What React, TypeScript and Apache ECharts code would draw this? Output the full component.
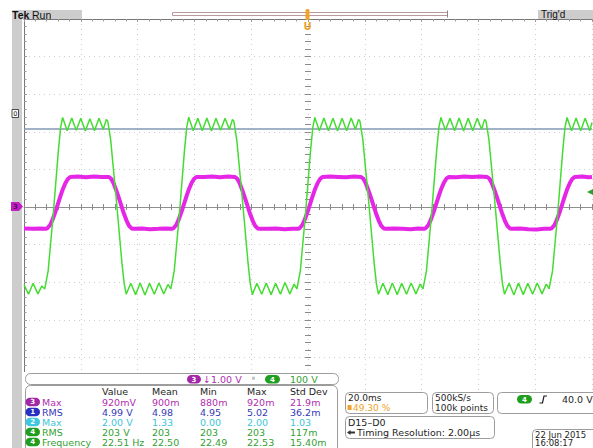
import { useEffect, useRef } from "react";
import * as echarts from "echarts";

const FONT = '"DejaVu Sans", Verdana, sans-serif';
const FONT2 = '"Liberation Sans", Arial, sans-serif';

// Horizontal: 20 ms/div, 10 divisions; vertical: 10 divisions
const timeMin = -100;
const timeMax = 100;
const timePerDiv = 20;
const ch3Min = -5; // 1.00 V/div
const ch3Max = 5;
const ch4Min = -500; // 100 V/div
const ch4Max = 500;

// Channel 4 (green), time in ms, value in V
const ch4Trace: [number, number][] = [
  [-100, -206], [-98.4, -232], [-96.8, -203], [-95.1, -231], [-93.7, -210],
  [-92.7, -218], [-91.5, -170], [-89.7, -20], [-87.9, 150], [-87.1, 212], [-86.4, 238],
  [-84.8, 203], [-83.2, 237], [-81.6, 204], [-80.0, 236], [-78.4, 202], [-76.8, 235],
  [-75.2, 203], [-73.6, 236], [-72.1, 207], [-71.0, 233], [-70.5, 228], [-69.5, 180],
  [-67.5, 20], [-65.5, -150], [-64.7, -205], [-64.0, -232], [-62.4, -203], [-60.7, -233],
  [-59.1, -202], [-57.4, -234], [-55.8, -203], [-54.1, -232], [-52.5, -202], [-50.8, -231],
  [-49.3, -206],
  [-48.3, -218], [-47.1, -170], [-45.3, -20], [-43.5, 150], [-42.7, 212], [-42.0, 239],
  [-40.4, 203], [-38.8, 236], [-37.2, 203], [-35.6, 237], [-34.0, 202], [-32.4, 236],
  [-30.8, 204], [-29.2, 236], [-27.7, 206], [-26.6, 233], [-26.1, 228], [-25.1, 180],
  [-23.1, 20], [-21.1, -150], [-20.3, -205], [-19.6, -233], [-18.0, -203], [-16.3, -232],
  [-14.7, -202], [-13.0, -233], [-11.4, -203], [-9.7, -232], [-8.1, -201], [-6.4, -231],
  [-4.9, -205],
  [-3.9, -218], [-2.7, -170], [-0.9, -20], [0.9, 150], [1.7, 212], [2.4, 238],
  [4.0, 203], [5.6, 237], [7.2, 203], [8.8, 236], [10.4, 202], [12.0, 236],
  [13.6, 203], [15.2, 237], [16.7, 206], [17.8, 233], [18.3, 228], [19.3, 180],
  [21.3, 20], [23.3, -150], [24.1, -205], [24.8, -232], [26.4, -203], [28.1, -233],
  [29.7, -202], [31.4, -233], [33.0, -203], [34.7, -232], [36.3, -202], [38.0, -231],
  [39.5, -205],
  [40.5, -218], [41.7, -170], [43.5, -20], [45.3, 150], [46.1, 212], [46.8, 238],
  [48.4, 204], [50.0, 236], [51.6, 203], [53.2, 237], [54.8, 202], [56.4, 236],
  [58.0, 203], [59.6, 236], [61.1, 207], [62.2, 233], [62.7, 228], [63.7, 180],
  [65.7, 20], [67.7, -150], [68.5, -205], [69.2, -232], [70.8, -203], [72.5, -234],
  [74.1, -202], [75.8, -233], [77.4, -203], [79.1, -232], [80.7, -202], [82.4, -231],
  [83.9, -205],
  [84.9, -218], [86.1, -170], [87.9, -20], [89.7, 150], [90.5, 212], [91.2, 238],
  [92.8, 203], [94.4, 237], [96.0, 203], [97.6, 236], [99.2, 203], [100, 225],
];

// Channel 3 (magenta), time in ms, value in V
const ch3Trace: [number, number][] = [
  [-100, -0.57], [-97, -0.58], [-94.5, -0.57],
  [-92.4, -0.58], [-91.7, -0.56], [-90.8, -0.48], [-89.9, -0.33], [-89.0, -0.14], [-88.1, 0.07],
  [-87.2, 0.28], [-86.3, 0.48], [-85.4, 0.64], [-84.5, 0.75], [-83.7, 0.8], [-81.0, 0.81],
  [-78.2, 0.79], [-75.4, 0.81], [-72.6, 0.8], [-70.1, 0.8], [-69.3, 0.75], [-68.4, 0.62],
  [-67.5, 0.44], [-66.6, 0.24], [-65.7, 0.03], [-64.8, -0.18], [-63.9, -0.36], [-63.0, -0.5],
  [-62.1, -0.57], [-61.4, -0.58], [-58.5, -0.57], [-55.6, -0.59], [-52.7, -0.58], [-50.0, -0.57],
  [-48.0, -0.58], [-47.3, -0.56], [-46.4, -0.48], [-45.5, -0.33], [-44.6, -0.14], [-43.7, 0.07],
  [-42.8, 0.28], [-41.9, 0.48], [-41.0, 0.64], [-40.1, 0.75], [-39.3, 0.8], [-36.6, 0.8],
  [-33.8, 0.81], [-31.0, 0.79], [-28.2, 0.81], [-25.7, 0.8], [-24.9, 0.75], [-24.0, 0.62],
  [-23.1, 0.44], [-22.2, 0.24], [-21.3, 0.03], [-20.4, -0.18], [-19.5, -0.36], [-18.6, -0.5],
  [-17.7, -0.57], [-17.0, -0.58], [-14.1, -0.58], [-11.2, -0.57], [-8.3, -0.59], [-5.6, -0.58],
  [-3.6, -0.58], [-2.9, -0.56], [-2.0, -0.48], [-1.1, -0.33], [-0.2, -0.14], [0.7, 0.07],
  [1.6, 0.28], [2.5, 0.48], [3.4, 0.64], [4.3, 0.75], [5.1, 0.8], [7.8, 0.81],
  [10.6, 0.8], [13.4, 0.79], [16.2, 0.81], [18.7, 0.8], [19.5, 0.75], [20.4, 0.62],
  [21.3, 0.44], [22.2, 0.24], [23.1, 0.03], [24.0, -0.18], [24.9, -0.36], [25.8, -0.5],
  [26.7, -0.57], [27.4, -0.58], [30.3, -0.57], [33.2, -0.58], [36.1, -0.59], [38.8, -0.57],
  [40.8, -0.58], [41.5, -0.56], [42.4, -0.48], [43.3, -0.33], [44.2, -0.14], [45.1, 0.07],
  [46.0, 0.28], [46.9, 0.48], [47.8, 0.64], [48.7, 0.75], [49.5, 0.8], [52.2, 0.79],
  [55.0, 0.81], [57.8, 0.8], [60.6, 0.81], [63.1, 0.8], [63.9, 0.75], [64.8, 0.62],
  [65.7, 0.44], [66.6, 0.24], [67.5, 0.03], [68.4, -0.18], [69.3, -0.36], [70.2, -0.5],
  [71.1, -0.57], [71.8, -0.58], [74.7, -0.57], [77.6, -0.59], [80.5, -0.6], [83.2, -0.58],
  [85.2, -0.58], [85.9, -0.56], [86.8, -0.48], [87.7, -0.33], [88.6, -0.14], [89.5, 0.07],
  [90.4, 0.28], [91.3, 0.48], [92.2, 0.64], [93.1, 0.75], [93.9, 0.8], [96.6, 0.81],
  [98.8, 0.79], [100, 0.8],
];

const refTraceLevel = 2.07; // flat blue-grey trace, in ch3 divisions
const triggerLevelV = 40;

const readoutCh3 = "1.00 V";
const readoutCh4 = "100 V";

const measHeaders = ["Value", "Mean", "Min", "Max", "Std Dev"];
const measChannels = ["3", "1", "2", "4", "4"];
const measNames = ["Max", "RMS", "Max", "RMS", "Frequency"];
const measRows = [
  ["920mV", "900m", "880m", "920m", "21.9m"],
  ["4.99 V", "4.98", "4.95", "5.02", "36.2m"],
  ["2.00 V", "1.33", "0.00", "2.00", "1.03"],
  ["203 V", "203", "203", "203", "117m"],
  ["22.51 Hz", "22.50", "22.49", "22.53", "15.40m"],
];

const horizScale = "20.0ms";
const triggerPos = "49.30 %";
const sampleRate = "500kS/s";
const recordLen = "100k points";
const trigReadout = "40.0 V";
const busLabel = "D15\u2013D0";
const timingRes = "Timing Resolution: 2.00\u00b5s";
const dateText = "22 Jun 2015";
const timeText = "16:08:17";

const CH_TEXT: Record<string, string> = { "1": "#3438b8", "2": "#3fc3d8", "3": "#b02eb0", "4": "#35a035" };
const CH_PILL: Record<string, string> = { "1": "#2a2fc4", "2": "#40c8e0", "3": "#a326a8", "4": "#1f9e1f" };

function txt(x: number, y: number, text: string, fill: string, extra: any = {}) {
  return {
    type: "text",
    x,
    y,
    z: 110,
    silent: true,
    style: {
      text,
      fill,
      font: `${extra.weight || "normal"} ${extra.size || 9.5}px ${extra.family || FONT}`,
      align: extra.align || "left",
      verticalAlign: "middle",
    },
  };
}

function box(x: number, y: number, w: number, h: number, r = 4) {
  return {
    type: "rect",
    z: 105,
    silent: true,
    shape: { x, y, width: w, height: h, r },
    style: { fill: "#ffffff", stroke: "#9c9c9c", lineWidth: 1 },
  };
}

function pill(x: number, y: number, ch: string, w = 14) {
  return [
    {
      type: "rect",
      z: 108,
      silent: true,
      shape: { x, y, width: w, height: 8.5, r: 4.25 },
      style: { fill: CH_PILL[ch] },
    },
    txt(x + w / 2, y + 4.5, ch, "#ffffff", { size: 7, align: "center", weight: "bold" }),
  ];
}

function buildGraphic() {
  const els: any[] = [];
  // left grey strip and top bars
  els.push({ type: "rect", z: 100, silent: true, shape: { x: 12, y: 10, width: 10, height: 438 }, style: { fill: "#cdcdcd" } });
  els.push({ type: "rect", z: 100, silent: true, shape: { x: 12, y: 10, width: 70, height: 9 }, style: { fill: "#cdcdcd" } });
  els.push(txt(12, 14.5, "Tek", "#111", { size: 10.5, weight: "bold", family: FONT2 }));
  els.push(txt(32, 14.5, "Run", "#111", { size: 10.5, family: FONT2 }));
  els.push({ type: "rect", z: 100, silent: true, shape: { x: 538, y: 10, width: 55, height: 9 }, style: { fill: "#cdcdcd" } });
  els.push(txt(541, 14.5, "Trig'd", "#111", { size: 10, family: FONT2 }));
  // record view
  els.push({ type: "rect", z: 100, silent: true, shape: { x: 172.5, y: 12.5, width: 275, height: 3 }, style: { fill: "none", stroke: "#b89a9e", lineWidth: 1 } });
  els.push({ type: "line", z: 100, silent: true, shape: { x1: 447.5, y1: 10.5, x2: 447.5, y2: 17.5 }, style: { stroke: "#888", lineWidth: 1 } });
  // trigger position marker
  els.push({ type: "rect", z: 101, silent: true, shape: { x: 305.5, y: 9, width: 4, height: 11, r: 1.5 }, style: { fill: "#f0a22a" } });
  els.push(txt(307.5, 26, "U", "#f0a22a", { size: 10, weight: "bold", align: "center" }));
  // left markers
  els.push({ type: "rect", z: 101, silent: true, shape: { x: 12, y: 109.5, width: 6.5, height: 8 }, style: { fill: "#fff", stroke: "#222", lineWidth: 0.8 } });
  els.push(txt(15.3, 113.8, "0", "#222", { size: 6.5, align: "center" }));
  els.push({ type: "polygon", z: 101, silent: true, shape: { points: [[11, 202], [19, 202], [23, 206.5], [19, 211], [11, 211]] }, style: { fill: "#c21fc2" } });
  els.push(txt(15.5, 206.8, "3", "#5a0a5a", { size: 7, align: "center", weight: "bold" }));

  // bottom panel covers
  els.push({ type: "rect", z: 102, silent: true, shape: { x: 23, y: 372, width: 319, height: 76 }, style: { fill: "#ffffff" } });
  els.push({ type: "rect", z: 102, silent: true, shape: { x: 342, y: 391, width: 251, height: 57 }, style: { fill: "#ffffff" } });

  // channel readout box
  els.push(box(25.5, 373.5, 313, 11, 5));
  els.push(...pill(187, 375, "3"));
  els.push(txt(203, 379.5, "\u2193" + readoutCh3, CH_TEXT["3"], { size: 9.5 }));
  els.push(txt(252, 379.5, "\u1d2e", "#777", { size: 7 }));
  els.push(...pill(265, 375, "4", 15));
  els.push(txt(290, 379.5, readoutCh4, CH_TEXT["4"], { size: 9.5 }));

  // measurement table
  els.push(box(25.5, 385.5, 312, 70, 5));
  const colX = [102, 152, 200, 247, 290];
  measHeaders.forEach((h, i) => els.push(txt(colX[i], 391.5, h, "#1e1e1e", { size: 9.5 })));
  measRows.forEach((row, r) => {
    const y = 402 + r * 10;
    const ch = measChannels[r];
    els.push(...pill(25.5, y - 4.2, ch, 14.5));
    els.push(txt(42, y, measNames[r], CH_TEXT[ch], { size: 9.5 }));
    row.forEach((v, i) => els.push(txt(colX[i], y, v, CH_TEXT[ch], { size: 9.5 })));
  });

  // right boxes
  els.push(box(345.5, 392.5, 82, 21));
  els.push(txt(348, 398, horizScale, "#1e1e1e", { size: 9 }));
  els.push({ type: "rect", z: 108, silent: true, shape: { x: 347.5, y: 405, width: 4, height: 5 }, style: { fill: "#f0a22a" } });
  els.push(txt(353, 407.5, triggerPos, "#f0a22a", { size: 9 }));
  els.push(box(432.5, 392.5, 61, 21));
  els.push(txt(435, 398, sampleRate, "#1e1e1e", { size: 9 }));
  els.push(txt(435, 407.7, recordLen, "#1e1e1e", { size: 9 }));
  els.push(box(497.5, 392.5, 100, 21));
  els.push(...pill(517, 395, "4", 15));
  els.push({ type: "polyline", z: 108, silent: true, shape: { points: [[539.5, 403], [542.5, 403], [544, 396], [547, 396]] }, style: { stroke: "#1e1e1e", lineWidth: 1.2, fill: "none" } });
  els.push(txt(562, 399.5, trigReadout, "#1e1e1e", { size: 9.5 }));
  els.push(box(345.5, 416.5, 149, 22));
  els.push(txt(348, 422.5, busLabel, "#1e1e1e", { size: 9.5 }));
  els.push({ type: "polygon", z: 108, silent: true, shape: { points: [[347, 432.5], [350.5, 430], [350.5, 431.5], [355, 431.5], [355, 433.5], [350.5, 433.5], [350.5, 435]] }, style: { fill: "#333" } });
  els.push(txt(357, 432.5, timingRes, "#1e1e1e", { size: 9.5 }));
  els.push(box(532.5, 429.5, 70, 25));
  els.push(txt(535, 434.5, dateText, "#1e1e1e", { size: 8.5 }));
  els.push(txt(535, 443, timeText, "#1e1e1e", { size: 8.5 }));
  return els;
}

const gridGray = "#cfcfcf";
const tickGray = "#8a8a8a";

function centerTicks() {
  return {
    axisTick: { show: true, length: 3, lineStyle: { color: tickGray, width: 1 } },
    minorTick: { show: true, splitNumber: 5, length: 3, lineStyle: { color: tickGray, width: 1 } },
    axisLabel: { show: false },
  };
}

export default function App() {
  const ref = useRef<HTMLDivElement>(null);
  useEffect(() => {
    if (!ref.current) return;
    const chart = echarts.init(ref.current, undefined, { renderer: "svg" });
    const xBase = { type: "value", min: timeMin, max: timeMax, interval: timePerDiv };
    const yBase = { type: "value", min: ch3Min, max: ch3Max, interval: 1 };
    chart.setOption({
      animation: false,
      backgroundColor: "#ffffff",
      grid: { left: 24, top: 19, width: 568, height: 376, containLabel: false },
      xAxis: [
        {
          ...xBase,
          position: "bottom",
          axisLine: { show: true, onZero: true, onZeroAxisIndex: 0, lineStyle: { color: "#8f8f8f", width: 1 } },
          ...centerTicks(),
          splitLine: { show: true, lineStyle: { color: gridGray, type: [1, 4], width: 1 } },
        },
        {
          ...xBase,
          position: "top",
          axisLine: { show: false, onZero: true, onZeroAxisIndex: 0 },
          ...centerTicks(),
          splitLine: { show: false },
        },
        {
          ...xBase,
          position: "top",
          axisLine: { show: true, onZero: false, lineStyle: { color: "#777", width: 1 } },
          axisTick: { show: true, inside: true, length: 3, lineStyle: { color: "#999" } },
          minorTick: { show: true, splitNumber: 5, length: 2.5, lineStyle: { color: "#999" } },
          axisLabel: { show: false },
          splitLine: { show: false },
        },
      ],
      yAxis: [
        {
          ...yBase,
          position: "left",
          axisLine: { show: false, onZero: true, onZeroAxisIndex: 0 },
          ...centerTicks(),
          splitLine: { show: true, lineStyle: { color: gridGray, type: [1, 4], width: 1 } },
        },
        {
          ...yBase,
          position: "right",
          axisLine: { show: false, onZero: true, onZeroAxisIndex: 0 },
          ...centerTicks(),
          splitLine: { show: false },
        },
        {
          ...yBase,
          position: "left",
          axisLine: { show: true, onZero: false, lineStyle: { color: "#777", width: 1 } },
          axisTick: { show: true, inside: true, length: 3, lineStyle: { color: "#999" } },
          minorTick: { show: true, splitNumber: 5, length: 2.5, lineStyle: { color: "#999" } },
          axisLabel: { show: false },
          splitLine: { show: false },
        },
        {
          type: "value",
          min: ch4Min,
          max: ch4Max,
          interval: 100,
          show: false,
          axisLine: { onZero: false },
          splitLine: { show: false },
        },
      ],
      series: [
        {
          name: "Ch3",
          type: "line",
          xAxisIndex: 0,
          yAxisIndex: 0,
          data: ch3Trace,
          showSymbol: false,
          symbol: "none",
          z: 3,
          lineStyle: { color: "#e626e6", width: 4 },
          markLine: {
            silent: true,
            symbol: "none",
            z: 1,
            label: { show: false },
            lineStyle: { color: "#8398b3", width: 1.5, type: "solid" },
            data: [{ yAxis: refTraceLevel }],
          },
        },
        {
          name: "Ch4",
          type: "line",
          xAxisIndex: 0,
          yAxisIndex: 3,
          data: ch4Trace,
          showSymbol: false,
          symbol: "none",
          z: 4,
          lineStyle: { color: "#45dc32", width: 1.5 },
          markPoint: {
            silent: true,
            symbol: "triangle",
            symbolSize: [6, 6],
            symbolRotate: 90,
            symbolOffset: [-2, 0],
            itemStyle: { color: "#2f9e2f" },
            label: { show: false },
            data: [{ coord: [timeMax, triggerLevelV] }],
          },
        },
      ],
      graphic: { elements: buildGraphic() },
    });
    return () => chart.dispose();
  }, []);
  return <div ref={ref} style={{ position: "fixed", left: 0, top: 0, width: 593, height: 448 }} />;
}
